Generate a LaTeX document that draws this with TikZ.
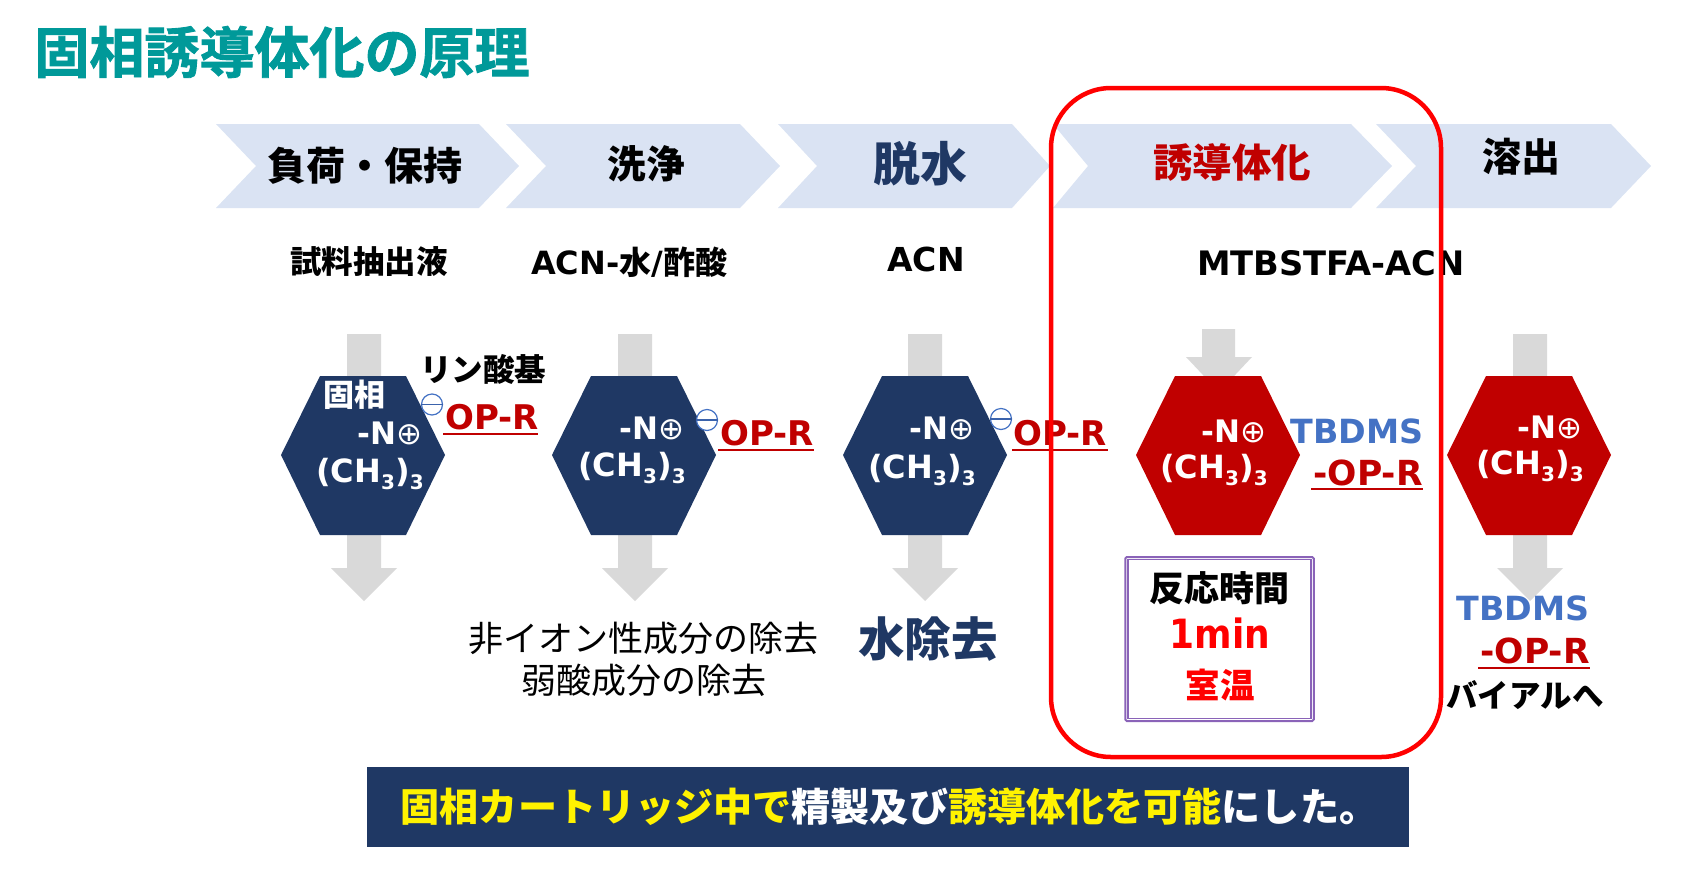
\documentclass[tikz,border=0pt]{standalone}
\usepackage{fontspec}
\newfontfamily\jp{Noto Sans CJK JP}
\newfontfamily\jph[FakeBold=1.6]{Noto Sans CJK JP Bold}
\newfontfamily\lat{DejaVu Sans}
\definecolor{chev}{HTML}{DAE3F3}
\definecolor{gr}{HTML}{D9D9D9}
\definecolor{navy}{HTML}{1F3864}
\definecolor{dred}{HTML}{C00000}
\definecolor{teal2}{HTML}{009999}
\definecolor{blu}{HTML}{4472C4}
\definecolor{purp}{HTML}{8A63B8}
\newcommand{\fsz}[1]{\fontsize{#1}{#1}\selectfont}
\newcommand{\J}[1]{{\jp\bfseries #1}}
\newcommand{\LL}[1]{{\lat\bfseries #1}}
\newcommand{\chthree}{\LL{(CH\raisebox{-0.2em}{\fsz{20}3})\raisebox{-0.2em}{\fsz{20}3}}}
\newcommand{\nplus}{\LL{-N}{\lat ⊕}}
\newcommand{\chevron}[5]{\fill[chev] (#2,124) -- (#4,124) -- (#5,166) -- (#4,208) -- (#2,208) -- (#3,166) -- cycle; \coordinate (#1) at (#3,166);}
\newcommand{\hexa}[3]{\fill[#3] (#2-82,455) -- (#2-43,376) -- (#2+43,376) -- (#2+82,455) -- (#2+43,535) -- (#2-43,535) -- cycle; \coordinate (#1) at (#2,455);}
\newcommand{\garrowfull}[1]{\fill[gr] (#1-17,334) -- (#1+17,334) -- (#1+17,568) -- (#1+33,568) -- (#1,601) -- (#1-33,568) -- (#1-17,568) -- cycle;}
\tikzset{x=1pt,y=-1pt,
 txt/.style={inner sep=0pt,outer sep=0pt,align=center},
 white/.style={text=white},
 opline/.style={dred,line width=1.3pt},
 minus/.style={draw=blu,line width=1.2pt,fill=white,circle,minimum size=21pt,inner sep=0pt},
}
\begin{document}
\begin{tikzpicture}
\useasboundingbox (0,0) rectangle (1699,873);
% chevrons
\chevron{c1}{216}{256}{479}{519}
\chevron{c2}{506}{546}{740}{780}
\chevron{c3}{778}{817}{1012}{1050}
\chevron{c4}{1053}{1088}{1351}{1392}
\chevron{c5}{1376}{1416}{1611}{1651}
% grey arrows
\garrowfull{364}
\garrowfull{635}
\garrowfull{925}
\garrowfull{1530}
\fill[gr] (1202,329) -- (1235,329) -- (1235,357) -- (1252,357) -- (1219,392) -- (1186,357) -- (1202,357) -- cycle;
% hexagons
\hexa{h1}{363}{navy}
\hexa{h2}{634}{navy}
\hexa{h3}{925}{navy}
\hexa{h4}{1218}{dred}
\hexa{h5}{1529}{dred}
% title
\node[txt,text=teal2] (title) at (282,52) {\fsz{55}{\jph 固相誘導体化の原理}};
% chevron labels
\node[txt] (l1) at (365,166) {\fsz{39}\J{負荷・保持}};
\node[txt] (l2) at (646,164) {\fsz{38.5}\J{洗浄}};
\node[txt,text=navy] (l3) at (920,164) {\fsz{47}\J{脱水}};
\node[txt,text=dred] (l4) at (1232,162) {\fsz{39.5}\J{誘導体化}};
\node[txt] (l5) at (1521,157) {\fsz{39}\J{溶出}};
% reagents
\node[txt] (r1) at (369,262) {\fsz{31.5}\J{試料抽出液}};
\node[txt] (r2) at (629,262) {\fsz{32}\LL{ACN-}\J{水}\LL{/}\J{酢酸}};
\node[txt] (r3) at (926,259) {\fsz{33}\LL{ACN}};
\node[txt] (r4) at (1331,263) {\fsz{33.7}\LL{MTBSTFA-ACN}};
% hexagon text
\node[txt] (rin) at (483,369) {\fsz{31.5}\J{リン酸基}};
\node[txt,white] (ko) at (354,395) {\fsz{31}\J{固相}};
\node[txt,white] (n1) at (390,433) {\fsz{31}\nplus};
\node[txt,white] (ch1) at (370,474) {\fsz{32}\chthree};
\node[txt,white] (n2) at (652,428) {\fsz{31}\nplus};
\node[txt,white] (ch2) at (632,468) {\fsz{32}\chthree};
\node[txt,white] (n3) at (942,428) {\fsz{31}\nplus};
\node[txt,white] (ch3) at (922,470) {\fsz{32}\chthree};
\node[txt,white] (n4) at (1234,431) {\fsz{31}\nplus};
\node[txt,white] (ch4) at (1214,470) {\fsz{32}\chthree};
\node[txt,white] (n5) at (1550,427) {\fsz{31}\nplus};
\node[txt,white] (ch5) at (1530,466) {\fsz{32}\chthree};
% minus signs
\node[minus] (m1) at (432,404.5) {};
\node[minus] (m2) at (707,420) {};
\node[minus] (m3) at (1001,419) {};
\foreach \m in {m1,m2,m3}{\draw[blu!75!navy,line width=1.2pt] (\m.west) -- (\m.east);}
% OP-R
\node[txt,text=dred] (o1) at (492,417) {\fsz{34}\LL{OP-R}};
\draw[opline] (443,434) -- (538,434);
\node[txt,text=dred] (o2) at (767,433) {\fsz{34}\LL{OP-R}};
\draw[opline] (718,450) -- (814,450);
\node[txt,text=dred] (o3) at (1060,433) {\fsz{34}\LL{OP-R}};
\draw[opline] (1012,450) -- (1108,450);
\node[txt,text=blu] (t4) at (1357,431) {\fsz{33.3}\LL{TBDMS}};
\node[txt,text=dred] (o4) at (1368,473) {\fsz{34.5}\LL{-OP-R}};
\draw[opline] (1311,489) -- (1423,489);
% below
\node[txt] (b1) at (643,638) {\fsz{35}{\jp 非イオン性成分の除去}};
\node[txt] (b2) at (644,680) {\fsz{35}{\jp 弱酸成分の除去}};
\node[txt,text=navy] (b3) at (928,639) {\fsz{46.5}\J{水除去}};
\node[txt,text=blu] (t5) at (1523,608) {\fsz{33.3}\LL{TBDMS}};
\node[txt,text=dred] (o5) at (1535,651) {\fsz{34.5}\LL{-OP-R}};
\draw[opline] (1478,668) -- (1590,668);
\node[txt] (via) at (1525,695) {\fsz{31.5}\J{バイアルへ}};
% reaction box
\node[draw=purp,line width=2pt,rounded corners=1.5pt,minimum width=188.5pt,minimum height=164pt,inner sep=0pt] (box) at (1219.5,639) {};
\draw[purp,line width=1.2pt] ([shift={(3.8,3.8)}]box.north west) rectangle ([shift={(-3.8,-3.8)}]box.south east);
\node[txt] (x1) at (1219,588) {\fsz{35}\J{反応時間}};
\node[txt,text=red] (x2) at (1220,633) {\fsz{36}\scalebox{1}[1.12]{\LL{1min}}};
\node[txt,text=red] (x3) at (1220,685) {\fsz{34.5}\J{室温}};
% highlight
\draw[red,line width=4.5pt,rounded corners=60pt] (1051,88) rectangle (1441,757);
% bottom bar
\node[fill=navy,minimum width=1042pt,minimum height=80pt,inner sep=0pt] (bar) at (888,807) {};
\node[txt,text=white] (bt) at (889.5,807) {\fsz{39.1}\J{\textcolor{yellow}{固相カートリッジ中で}精製及び\textcolor{yellow}{誘導体化を可能}にした。}};
\end{tikzpicture}
\end{document}
